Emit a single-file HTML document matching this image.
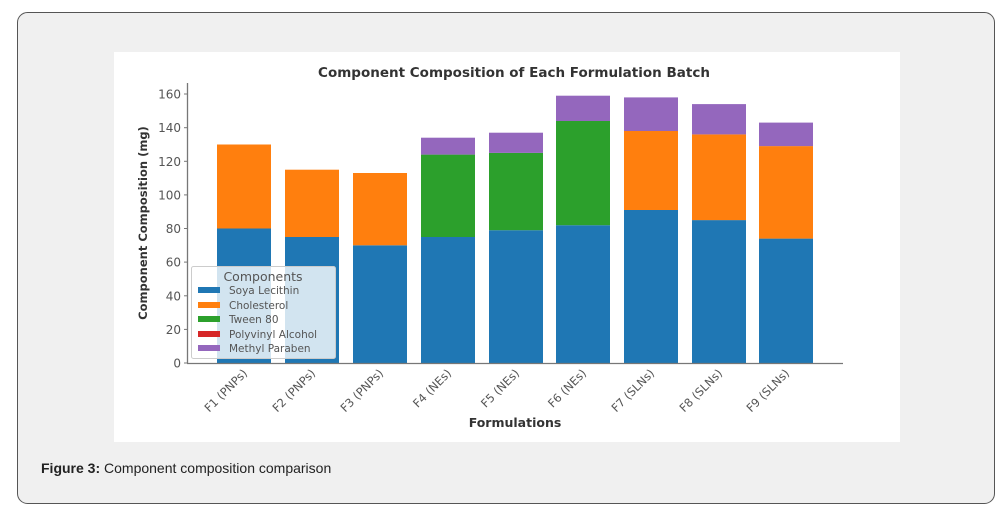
<!DOCTYPE html>
<html><head><meta charset="utf-8"><style>
html,body{margin:0;padding:0;background:#fff;width:1008px;height:510px;overflow:hidden}
svg{display:block}
</style></head><body>
<svg width="1008" height="510" xmlns="http://www.w3.org/2000/svg" font-family="'DejaVu Sans', sans-serif">
<rect x="17.5" y="12.5" width="977" height="491" rx="10" fill="#f0f0f0" stroke="#555" stroke-width="1"/>
<rect x="114" y="52" width="786" height="390" fill="#fff"/>
<text x="514" y="77" font-size="13.5" font-weight="bold" fill="#333" text-anchor="middle">Component Composition of Each Formulation Batch</text>
<g>
<rect x="217" y="228.5" width="54" height="134.5" fill="#1f77b4"/>
<rect x="217" y="144.5" width="54" height="84" fill="#ff7f0e"/>
<rect x="285" y="237" width="54" height="126" fill="#1f77b4"/>
<rect x="285" y="169.7" width="54" height="67.3" fill="#ff7f0e"/>
<rect x="353" y="245.3" width="54" height="117.7" fill="#1f77b4"/>
<rect x="353" y="173" width="54" height="72.3" fill="#ff7f0e"/>
<rect x="421" y="237" width="54" height="126" fill="#1f77b4"/>
<rect x="421" y="154.6" width="54" height="82.4" fill="#2ca02c"/>
<rect x="421" y="137.7" width="54" height="16.9" fill="#9467bd"/>
<rect x="489" y="230.2" width="54" height="132.8" fill="#1f77b4"/>
<rect x="489" y="152.9" width="54" height="77.3" fill="#2ca02c"/>
<rect x="489" y="132.7" width="54" height="20.2" fill="#9467bd"/>
<rect x="556" y="225.2" width="54" height="137.8" fill="#1f77b4"/>
<rect x="556" y="121" width="54" height="104.2" fill="#2ca02c"/>
<rect x="556" y="95.7" width="54" height="25.3" fill="#9467bd"/>
<rect x="624" y="210" width="54" height="153" fill="#1f77b4"/>
<rect x="624" y="131" width="54" height="79" fill="#ff7f0e"/>
<rect x="624" y="97.4" width="54" height="33.6" fill="#9467bd"/>
<rect x="692" y="220.1" width="54" height="142.9" fill="#1f77b4"/>
<rect x="692" y="134.4" width="54" height="85.7" fill="#ff7f0e"/>
<rect x="692" y="104.1" width="54" height="30.3" fill="#9467bd"/>
<rect x="759" y="238.6" width="54" height="124.4" fill="#1f77b4"/>
<rect x="759" y="146.1" width="54" height="92.5" fill="#ff7f0e"/>
<rect x="759" y="122.6" width="54" height="23.5" fill="#9467bd"/>
</g>
<line x1="187.5" y1="83" x2="187.5" y2="363.5" stroke="#777" stroke-width="1.3"/>
<line x1="187" y1="363.5" x2="843" y2="363.5" stroke="#777" stroke-width="1.3"/>
<g font-size="12" fill="#555" text-anchor="end" stroke="#777">
<line x1="184" y1="363" x2="187" y2="363"/><text x="181" y="367.5" stroke="none">0</text>
<line x1="184" y1="329.4" x2="187" y2="329.4"/><text x="181" y="333.9" stroke="none">20</text>
<line x1="184" y1="295.8" x2="187" y2="295.8"/><text x="181" y="300.3" stroke="none">40</text>
<line x1="184" y1="262.1" x2="187" y2="262.1"/><text x="181" y="266.6" stroke="none">60</text>
<line x1="184" y1="228.5" x2="187" y2="228.5"/><text x="181" y="233" stroke="none">80</text>
<line x1="184" y1="194.9" x2="187" y2="194.9"/><text x="181" y="199.4" stroke="none">100</text>
<line x1="184" y1="161.3" x2="187" y2="161.3"/><text x="181" y="165.8" stroke="none">120</text>
<line x1="184" y1="127.7" x2="187" y2="127.7"/><text x="181" y="132.2" stroke="none">140</text>
<line x1="184" y1="94" x2="187" y2="94"/><text x="181" y="98.5" stroke="none">160</text>
</g>
<text transform="translate(147,223) rotate(-90)" font-size="11.5" font-weight="bold" fill="#333" text-anchor="middle">Component Composition (mg)</text>
<rect x="191.5" y="266.5" width="144" height="92" rx="2" fill="#fff" fill-opacity="0.8" stroke="#ccc"/>
<text x="263" y="281" font-size="12.5" fill="#555" text-anchor="middle">Components</text>
<g font-size="10.5" fill="#555">
<rect x="198" y="287" width="22" height="6" fill="#1f77b4"/><text x="229" y="294">Soya Lecithin</text>
<rect x="198" y="302" width="22" height="6" fill="#ff7f0e"/><text x="229" y="309">Cholesterol</text>
<rect x="198" y="316" width="22" height="6" fill="#2ca02c"/><text x="229" y="323">Tween 80</text>
<rect x="198" y="331" width="22" height="6" fill="#d62728"/><text x="229" y="338">Polyvinyl Alcohol</text>
<rect x="198" y="345" width="22" height="6" fill="#9467bd"/><text x="229" y="352">Methyl Paraben</text>
</g>
<g font-size="11.5" fill="#555" text-anchor="end">
<text transform="translate(248,374) rotate(-45)">F1 (PNPs)</text>
<text transform="translate(316,374) rotate(-45)">F2 (PNPs)</text>
<text transform="translate(384,374) rotate(-45)">F3 (PNPs)</text>
<text transform="translate(452,374) rotate(-45)">F4 (NEs)</text>
<text transform="translate(520,374) rotate(-45)">F5 (NEs)</text>
<text transform="translate(587,374) rotate(-45)">F6 (NEs)</text>
<text transform="translate(655,374) rotate(-45)">F7 (SLNs)</text>
<text transform="translate(723,374) rotate(-45)">F8 (SLNs)</text>
<text transform="translate(790,374) rotate(-45)">F9 (SLNs)</text>
</g>
<text x="515" y="427" font-size="12.5" font-weight="bold" fill="#333" text-anchor="middle">Formulations</text>
<text x="41" y="473" font-family="'Liberation Sans', sans-serif" font-size="14" fill="#222"><tspan font-weight="bold">Figure 3:</tspan> Component composition comparison</text>
</svg>
</body></html>
